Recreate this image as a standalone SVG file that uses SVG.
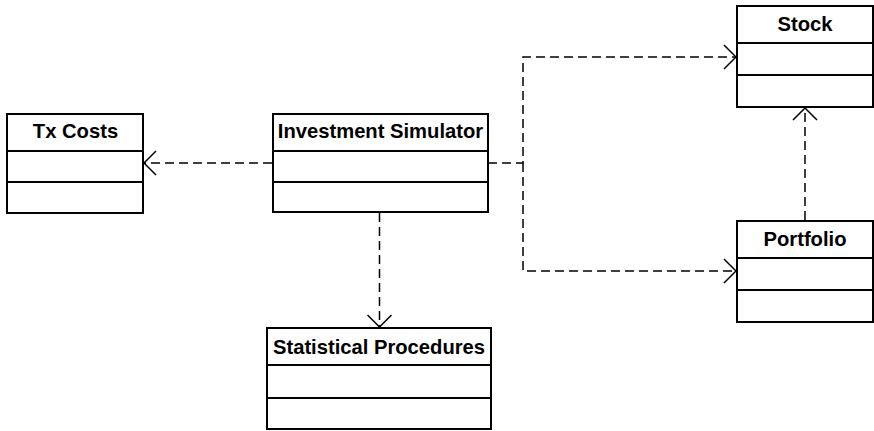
<svg xmlns="http://www.w3.org/2000/svg" width="874" height="431" viewBox="0 0 874 431">
  <style>
    .box { fill: #ffffff; stroke: #000000; stroke-width: 2; }
    .div { stroke: #000000; stroke-width: 2; }
    .title { font-family: "Liberation Sans", Arial, sans-serif; font-weight: bold; font-size: 20.2px; fill: #000000; text-anchor: middle; }
    .dep { fill: none; stroke: #000000; stroke-width: 1.5; stroke-dasharray: 9 5; }
  </style>
  <defs>
    <marker id="open-arrow" viewBox="0 0 14 26" refX="13" refY="13" markerWidth="14" markerHeight="26" markerUnits="userSpaceOnUse" orient="auto">
      <path d="M1,1 L13,13 L1,25" fill="none" stroke="#000000" stroke-width="1.5"/>
    </marker>
  </defs>
  <rect width="874" height="431" fill="#ffffff"/>

  <!-- dependency connectors -->
  <g id="connectors">
    <line class="dep" x1="272" y1="163" x2="144" y2="163" marker-end="url(#open-arrow)"/>
    <line class="dep" x1="379.5" y1="213" x2="379.5" y2="327" marker-end="url(#open-arrow)"/>
    <polyline class="dep" points="488,163 523,163 523,57 736,57" marker-end="url(#open-arrow)"/>
    <polyline class="dep" points="523,163 523,271 736,271" marker-end="url(#open-arrow)"/>
    <line class="dep" x1="805" y1="220" x2="805" y2="108" marker-end="url(#open-arrow)"/>
  </g>

  <g id="tx-costs">
    <rect class="box" x="7" y="114" width="136" height="99"/>
    <line class="div" x1="7" y1="151" x2="143" y2="151"/>
    <line class="div" x1="7" y1="182" x2="143" y2="182"/>
    <text class="title" x="75.5" y="138">Tx Costs</text>
  </g>

  <g id="investment-simulator">
    <rect class="box" x="273" y="114" width="215" height="98"/>
    <line class="div" x1="273" y1="151" x2="488" y2="151"/>
    <line class="div" x1="273" y1="182" x2="488" y2="182"/>
    <text class="title" x="380.5" y="138">Investment Simulator</text>
  </g>

  <g id="statistical-procedures">
    <rect class="box" x="267" y="328" width="224" height="101"/>
    <line class="div" x1="267" y1="365" x2="491" y2="365"/>
    <line class="div" x1="267" y1="398" x2="491" y2="398"/>
    <text class="title" x="379" y="354">Statistical Procedures</text>
  </g>

  <g id="stock">
    <rect class="box" x="737" y="6" width="136" height="101"/>
    <line class="div" x1="737" y1="43" x2="873" y2="43"/>
    <line class="div" x1="737" y1="75" x2="873" y2="75"/>
    <text class="title" x="805" y="31">Stock</text>
  </g>

  <g id="portfolio">
    <rect class="box" x="737" y="221" width="136" height="101"/>
    <line class="div" x1="737" y1="258" x2="873" y2="258"/>
    <line class="div" x1="737" y1="290" x2="873" y2="290"/>
    <text class="title" x="805" y="246">Portfolio</text>
  </g>
</svg>
